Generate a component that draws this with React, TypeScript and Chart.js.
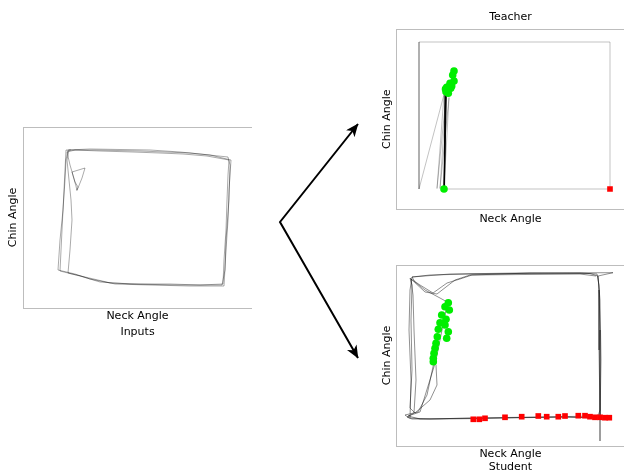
import React, { useEffect, useRef } from "react";
import { Chart, registerables } from "chart.js";

Chart.register(...registerables);

// ---------------- labels ----------------
const xAxisLabel = "Neck Angle";
const yAxisLabel = "Chin Angle";
const inputsCaption = "Inputs";
const teacherTitle = "Teacher";
const studentCaption = "Student";

// ---------------- data (neck angle, chin angle) ----------------
type P = [number, number];

// Inputs: recorded trajectory (three loops around the range)
const inputsTrace: P[] = [
  [54, 116], [53, 121], [49, 135], [62, 139], [59, 129], [55, 119], [54, 117], [55, 120], [52, 125], [47, 142], [44, 155],
  [52, 157], [77, 156], [110, 155], [137, 154], [160, 153], [184, 151], [206, 147], [205, 132],
  [204, 107], [203, 77], [201, 47], [200, 23], [177, 22], [147, 23], [117, 23], [87, 24], [67, 28],
  [52, 33], [35, 37], [37, 67], [40, 97], [42, 127], [43, 147], [45, 157],
  [67, 158], [97, 157.5], [127, 157], [157, 155], [187, 152], [208, 147], [206, 117], [205, 87],
  [203, 57], [201, 21], [167, 21], [127, 22], [92, 23], [62, 30], [45, 34], [47, 57], [49, 87],
  [48, 107], [46, 127], [44, 147], [46, 157],
  [72, 157], [117, 156], [167, 154], [205, 150], [207, 142], [206, 107], [203, 67], [202, 37],
  [199, 22], [157, 22], [107, 23], [77, 25], [57, 31], [37, 36], [39, 77], [41, 117], [43, 157], [48, 157],
];

// Teacher: light trajectory, dense trajectory, and markers
const teacherTraceLight: P[] = [
  [48, 20.5], [214, 20.5], [214, 167.5], [23, 167.5], [23, 20.5], [48, 115], [41, 21], [50, 113],
  [44, 21], [53, 112], [48, 20.5],
];
const teacherTraceDark: P[] = [
  [48, 20.5], [49, 116], [48.5, 20.5], [50, 118], [48, 20.5], [49.5, 115], [48.2, 20.5], [50.5, 117],
];
const teacherGreen: P[] = [
  [48, 20.5], [58, 138.5], [56.7, 134.5], [58, 128.5], [54, 126.2], [50.7, 122.2], [50, 117.8],
  [52.3, 116.2], [54.7, 121.2], [55.7, 123.5], [52, 119.5], [49.5, 120.5],
];
const teacherRed: P[] = [[214, 20.5]];

// Student: trajectory and markers
const studentTrace: P[] = [
  [14, 27.5], [15, 65.5], [13, 115.5], [14, 155.5], [16, 168.5], [34, 170.5], [74, 171.5], [124, 172],
  [184, 172.5], [201, 171.5], [203, 160.5], [204, 115.5], [204, 65.5], [204, 27.5], [164, 28.5],
  [124, 28], [84, 27], [44, 26.5], [16, 26.5], [11, 28.5],
  [18, 32.5], [20, 65.5], [18, 115.5], [17, 150.5], [15, 166.5], [24, 160.5], [37, 152.5], [51, 162.5],
  [64, 166.5], [76, 170.5], [134, 172.5], [194, 172], [202, 169.5], [204, 145.5], [205, 85.5],
  [204, 25.5], [204, 4.5], [204, 27.5], [174, 28.5], [104, 27.5], [54, 27], [24, 26.5], [12, 29.5],
  [24, 33.5], [37, 75.5], [40, 85.5], [44, 105.5], [50, 135.5], [53, 142.5], [44, 147.5], [29, 155.5],
  [19, 163.5], [16, 168.5], [54, 171.5], [124, 172.5], [217, 172.8], [202, 169.5], [203, 155.5],
  [203, 95.5], [204, 35.5], [202, 29.5], [144, 28.5], [74, 27.5], [34, 26.5], [13, 27.5],
  [9, 30.5], [22, 33.5], [31, 50.5], [38, 83.5], [40, 80.5], [41, 60.5], [34, 45.5], [19, 32.5],
  [14, 37.5], [16, 75.5], [15, 125.5], [16, 160.5], [14, 167.5], [29, 153.5], [41, 151.5],
  [59, 165.5], [74, 170.5], [184, 171.5], [200, 169.5],
];
const studentGreen: P[] = [
  [52.3, 142.8], [49, 138.8], [53.3, 135.5], [45.7, 130.5], [50, 126.2], [44, 122.8], [49, 120.5],
  [42.3, 116.2], [52.3, 113.8], [50.7, 107.2], [41.3, 108.8], [40, 102.2], [39, 97.2], [38, 92.2],
  [37.3, 87.2], [37.3, 83.8],
];
const studentRed: P[] = [
  [77.3, 26.2], [83.3, 26.2], [89, 27.2], [109, 28.2], [125.7, 28.8], [142.3, 29.5], [150.7, 28.8],
  [162.3, 28.8], [169, 29.5], [182.3, 29.8], [189, 29.8], [194, 28.8], [199, 28.2], [204, 28.2],
  [209, 27.8], [213.3, 27.8],
];

// ---------------- styling / layout ----------------
const FONT_FAMILY = "'DejaVu Sans', 'Bitstream Vera Sans', sans-serif";
const FONT_SIZE = 11;
const LINE_H = FONT_SIZE * 1.2;
const FONT = { family: FONT_FAMILY, size: FONT_SIZE, lineHeight: 1.2, weight: "normal" as const };
const TEXT_COLOR = "#000";
const GREEN = "#00ee00";
const RED = "#ff0000";

type Box = { L: number; T: number; R: number; B: number };
type PanelSpec = {
  box: Box;
  canvasLeft: number;
  canvasTop: number;
  height: number;
  xRange: [number, number];
  yRange: [number, number];
  xTitleGap: number;
  yTitleGap: number;
  title?: { text: string; centerY: number };
  caption?: { text: string; gap: number };
  datasets: any[];
};

const toXY = (pts: P[]) => pts.map(([x, y]) => ({ x, y }));

const lineDs = (pts: P[], color: string, width: number) => ({
  data: toXY(pts),
  showLine: true,
  borderColor: color,
  borderWidth: width,
  pointRadius: 0,
  tension: 0,
  fill: false,
});
const markerDs = (pts: P[], color: string, style: string, radius: number) => ({
  data: toXY(pts),
  showLine: false,
  pointStyle: style,
  pointRadius: radius,
  pointBackgroundColor: color,
  pointBorderColor: color,
  pointBorderWidth: 0,
});

const boxPlugin = {
  id: "panelBox",
  beforeDatasetsDraw(chart: any) {
    const { ctx, chartArea } = chart;
    const l = Math.floor(chartArea.left);
    const t = Math.floor(chartArea.top);
    const r = Math.floor(chartArea.right);
    const b = Math.floor(chartArea.bottom);
    ctx.save();
    ctx.strokeStyle = "#bdbdbd";
    ctx.lineWidth = 1;
    ctx.strokeRect(l + 0.5, t + 0.5, r - l, b - t);
    ctx.restore();
  },
};

function buildConfig(p: PanelSpec) {
  const { box } = p;
  const width = box.R - p.canvasLeft;
  const yAxisW = box.L - p.canvasLeft;
  const yPadTop = yAxisW - p.yTitleGap - LINE_H / 2;
  const yPadBottom = yAxisW - LINE_H - yPadTop;
  const xPadTop = p.xTitleGap - LINE_H / 2;
  const areaBottom = box.B - p.canvasTop;
  let xPadBottom = 0;
  let titleOpts: any = { display: false };
  if (p.title) {
    const tTop = p.title.centerY - p.canvasTop - LINE_H / 2;
    const tBottom = box.T - p.canvasTop - LINE_H - tTop;
    titleOpts = {
      display: true, position: "top", text: p.title.text, font: FONT, color: TEXT_COLOR,
      fullSize: false, padding: { top: tTop, bottom: tBottom },
    };
  } else if (p.caption) {
    const capTop = p.xTitleGap + p.caption.gap - (LINE_H + xPadTop) - LINE_H / 2;
    const capBottom = p.height - areaBottom - (LINE_H + xPadTop) - LINE_H - capTop;
    titleOpts = {
      display: true, position: "bottom", text: p.caption.text, font: FONT, color: TEXT_COLOR,
      fullSize: false, padding: { top: capTop, bottom: capBottom },
    };
  }
  if (!p.caption) {
    xPadBottom = p.height - areaBottom - LINE_H - xPadTop;
  }
  return {
    width,
    config: {
      type: "scatter",
      data: { datasets: p.datasets },
      options: {
        animation: false,
        responsive: false,
        devicePixelRatio: 1,
        layout: { autoPadding: false, padding: 0 },
        plugins: { legend: { display: false }, tooltip: { enabled: false }, title: titleOpts },
        scales: {
          x: {
            type: "linear", min: p.xRange[0], max: p.xRange[1],
            grid: { display: false, drawTicks: false }, border: { display: false },
            ticks: { display: false },
            title: { display: true, text: xAxisLabel, font: FONT, color: TEXT_COLOR, padding: { top: xPadTop, bottom: xPadBottom } },
          },
          y: {
            type: "linear", min: p.yRange[0], max: p.yRange[1],
            grid: { display: false, drawTicks: false }, border: { display: false },
            ticks: { display: false },
            title: { display: true, text: yAxisLabel, font: FONT, color: TEXT_COLOR, padding: { top: yPadTop, bottom: yPadBottom } },
          },
        },
      },
      plugins: [boxPlugin],
    },
  };
}

const panels: PanelSpec[] = [
  {
    box: { L: 23, T: 127, R: 252, B: 308 },
    canvasLeft: 0, canvasTop: 127, height: 220,
    xRange: [0, 229], yRange: [-1, 180],
    xTitleGap: 8.5, yTitleGap: 9.5,
    caption: { text: inputsCaption, gap: 16 },
    datasets: [lineDs(inputsTrace, "rgba(0,0,0,0.42)", 0.8)],
  },
  {
    box: { L: 396, T: 29, R: 625, B: 209.5 },
    canvasLeft: 373, canvasTop: 0, height: 232,
    xRange: [0, 229], yRange: [0, 180.5],
    xTitleGap: 9.5, yTitleGap: 8.5,
    title: { text: teacherTitle, centerY: 17.5 },
    datasets: [
      markerDs(teacherGreen, GREEN, "circle", 3.8),
      markerDs(teacherRed, RED, "rect", 4),
      lineDs(teacherTraceDark, "rgba(0,0,0,0.75)", 0.9),
      lineDs(teacherTraceLight, "rgba(0,0,0,0.3)", 0.8),
    ],
  },
  {
    box: { L: 396, T: 265, R: 625, B: 446 },
    canvasLeft: 373, canvasTop: 265, height: 225,
    xRange: [0, 229], yRange: [-0.5, 180.5],
    xTitleGap: 8, yTitleGap: 8.5,
    caption: { text: studentCaption, gap: 13.5 },
    datasets: [
      markerDs(studentGreen, GREEN, "circle", 3.8),
      markerDs(studentRed, RED, "rect", 4),
      lineDs(studentTrace, "rgba(0,0,0,0.55)", 0.8),
    ],
  },
];

function Panel({ spec }: { spec: PanelSpec }) {
  const ref = useRef<HTMLCanvasElement>(null);
  const { width, config } = buildConfig(spec);
  useEffect(() => {
    if (!ref.current) return;
    const chart = new Chart(ref.current, config as any);
    return () => chart.destroy();
  }, []);
  return (
    <canvas
      ref={ref}
      width={width}
      height={spec.height}
      style={{ position: "absolute", left: spec.canvasLeft, top: spec.canvasTop, width, height: spec.height }}
    />
  );
}

// Arrows from inputs to the two model panels
const arrowStart: P = [280, 222];
const arrowTips: P[] = [[358, 124], [358, 358]];

export default function App() {
  return (
    <div
      style={{
        position: "absolute", left: 0, top: 0, width: 624, height: 472,
        overflow: "hidden", background: "#fff",
      }}
    >
      {panels.map((p, i) => (
        <Panel key={i} spec={p} />
      ))}
      <svg width={624} height={472} style={{ position: "absolute", left: 0, top: 0 }}>
        <defs>
          <marker id="ah" viewBox="0 0 13 11" refX="12.5" refY="5.5" markerWidth="13" markerHeight="11"
            markerUnits="userSpaceOnUse" orient="auto-start-reverse">
            <path d="M0,0 L13,5.5 L0,11 L3.5,5.5 Z" fill="#000" />
          </marker>
        </defs>
        <polyline
          points={`${arrowTips[0][0]},${arrowTips[0][1]} ${arrowStart[0]},${arrowStart[1]} ${arrowTips[1][0]},${arrowTips[1][1]}`}
          fill="none" stroke="#000" strokeWidth={2} strokeLinejoin="miter" strokeMiterlimit={10}
          markerStart="url(#ah)" markerEnd="url(#ah)"
        />
      </svg>
    </div>
  );
}
